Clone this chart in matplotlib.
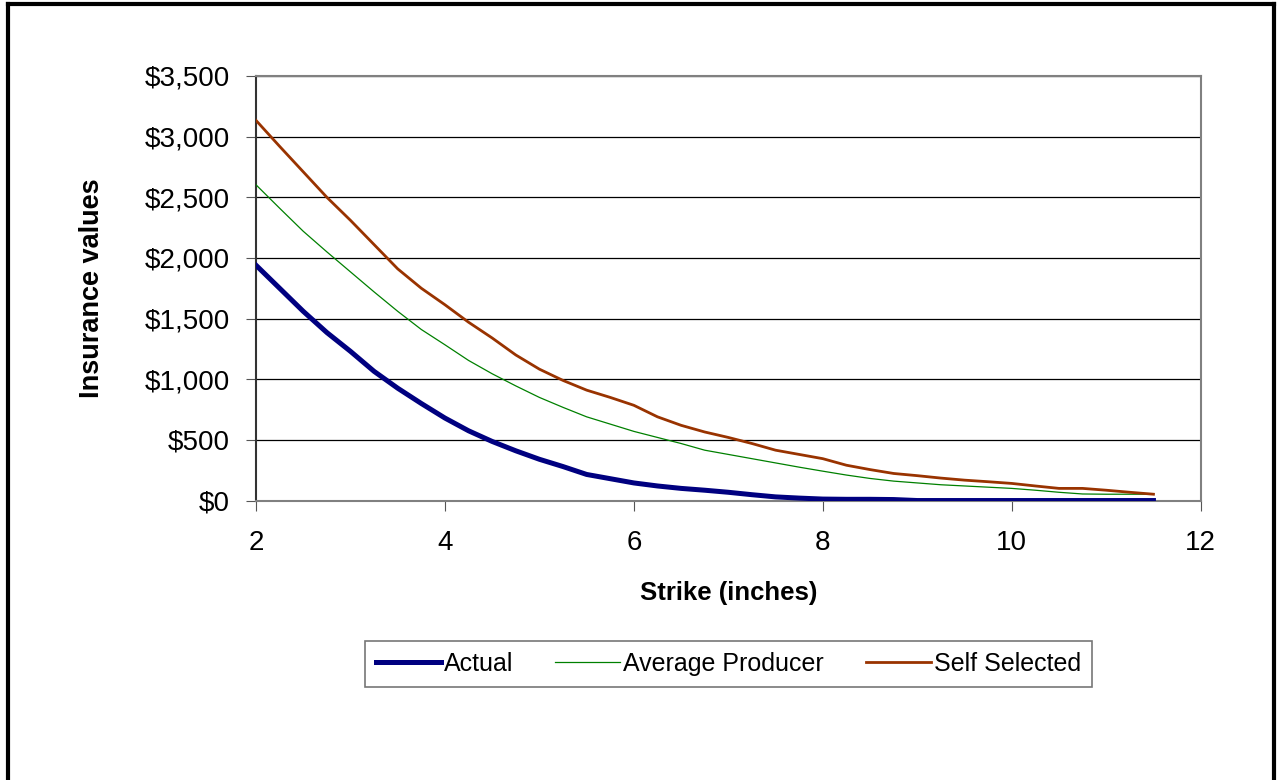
import numpy as np
import matplotlib.pyplot as plt
from matplotlib.lines import Line2D
from matplotlib.ticker import FuncFormatter

plt.rcParams['font.family'] = ['Liberation Sans', 'DejaVu Sans']

strike = [2.0, 2.25, 2.5, 2.75, 3.0, 3.25, 3.5, 3.75, 4.0, 4.25, 4.5, 4.75, 5.0,
          5.25, 5.5, 5.75, 6.0, 6.25, 6.5, 6.75, 7.0, 7.25, 7.5, 7.75, 8.0, 8.25,
          8.5, 8.75, 9.0, 9.25, 9.5, 9.75, 10.0, 10.25, 10.5, 10.75, 11.0, 11.25, 11.5]

actual = [1940, 1750, 1560, 1385, 1230, 1065, 926, 800, 680, 575, 487, 410, 340,
          280, 215, 180, 145, 120, 100, 85, 68, 48, 30, 20, 12, 10,
          10, 8, 0, 0, 0, 0, 0, 0, 0, 0, 0, 0, 0]

avg_producer = [2603, 2410, 2220, 2050, 1885, 1720, 1560, 1410, 1284, 1155, 1045, 945, 850,
                768, 690, 630, 570, 520, 470, 415, 380, 345, 310, 275, 242, 210,
                182, 160, 145, 130, 120, 110, 100, 85, 68, 54, 52, 52, 52]

self_selected = [3134, 2920, 2710, 2500, 2310, 2110, 1910, 1750, 1614, 1470, 1340, 1200, 1083,
                 990, 910, 850, 785, 690, 620, 565, 520, 470, 415, 380, 345, 291,
                 255, 223, 205, 185, 168, 155, 141, 120, 100, 100, 85, 68, 52]

fig = plt.figure(figsize=(12.78, 7.8), dpi=100)
ax = fig.add_axes([0.2003, 0.3583, 0.7392, 0.5443])

ax.plot(strike, actual, color='#000080', lw=3.6, label='Actual', zorder=5)
ax.plot(strike, avg_producer, color='#008000', lw=0.9, label='Average Producer', zorder=4)
ax.plot(strike, self_selected, color='#993300', lw=2.0, label='Self Selected', zorder=4)

ax.set_xlim(2, 12)
ax.set_ylim(0, 3500)
ax.set_xticks([2, 4, 6, 8, 10, 12])
ax.set_yticks(np.arange(0, 3501, 500))
ax.yaxis.set_major_formatter(FuncFormatter(lambda v, p: '${:,.0f}'.format(v)))
ax.tick_params(axis='both', labelsize=20, direction='out', length=7, color='#555555')
ax.tick_params(axis='y', pad=12)
ax.tick_params(axis='x', pad=14)

ax.grid(axis='y', color='black', lw=0.9)
ax.set_axisbelow(True)
for side in ['top', 'right', 'bottom']:
    ax.spines[side].set_color('#808080')
    ax.spines[side].set_linewidth(1.5)
ax.spines['left'].set_color('#333333')
ax.spines['left'].set_linewidth(1.5)

ax.set_ylabel('Insurance values', fontsize=19.5, fontweight='bold', labelpad=28)
ax.set_xlabel('Strike (inches)', fontsize=18.5, fontweight='bold', labelpad=18)

leg = ax.legend(loc='center', bbox_to_anchor=(0.5, -0.385), ncol=3, fontsize=18,
                frameon=True, fancybox=False, edgecolor='#555555',
                handlelength=2.6, handletextpad=0.1, columnspacing=1.7,
                borderpad=0.45, borderaxespad=0)
leg.get_frame().set_linewidth(1.2)

# outer chart border (open at the bottom, as in the cropped original)
fig.add_artist(Line2D([0.0065, 0.0065], [0, 0.995], color='black', lw=3,
                      transform=fig.transFigure))
fig.add_artist(Line2D([0.0065, 0.9965], [0.995, 0.995], color='black', lw=3,
                      transform=fig.transFigure))
fig.add_artist(Line2D([0.9965, 0.9965], [0, 0.995], color='black', lw=3,
                      transform=fig.transFigure))

fig.savefig('out.png', dpi=100)
